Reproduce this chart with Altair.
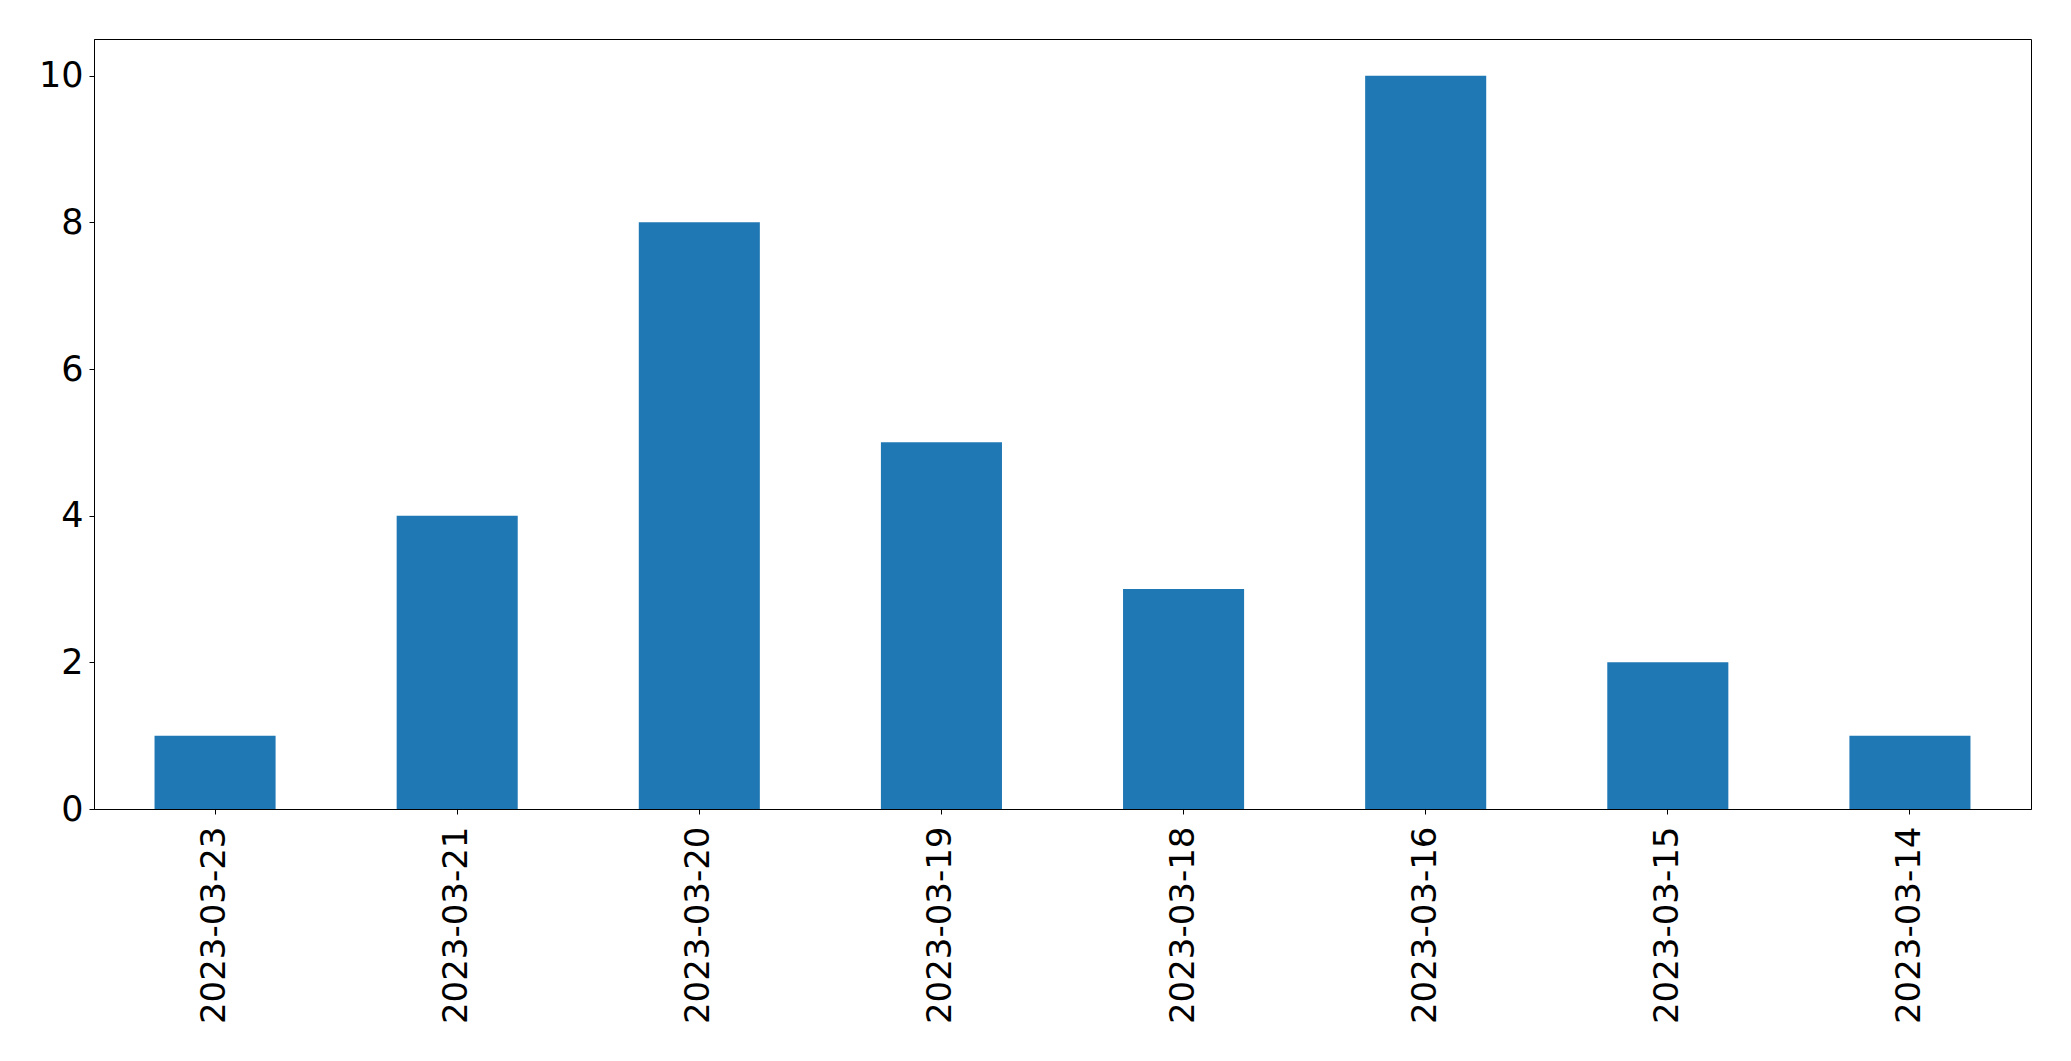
import altair as alt
import pandas as pd

dates = ["2023-03-23", "2023-03-21", "2023-03-20", "2023-03-19",
         "2023-03-18", "2023-03-16", "2023-03-15", "2023-03-14"]
counts = [1, 4, 8, 5, 3, 10, 2, 1]
y_ticks = [0, 2, 4, 6, 8, 10]

df = pd.DataFrame({"date": dates, "count": counts})

FONT = "DejaVu Sans"

chart = alt.Chart(df).mark_bar(color="#1f77b4").encode(
    x=alt.X("date:N", sort=None, title=None,
            scale=alt.Scale(paddingInner=0.5, paddingOuter=0.25),
            axis=alt.Axis(labelAngle=-90, labelFontSize=34, labelFont=FONT,
                          labelColor="black", tickColor="black", tickSize=5,
                          tickWidth=1, labelPadding=12, domainColor="black",
                          domainWidth=1, grid=False, labelLimit=0)),
    y=alt.Y("count:Q", title=None,
            scale=alt.Scale(domain=[0, 10.5], nice=False),
            axis=alt.Axis(values=y_ticks, labelFontSize=35, labelFont=FONT,
                          labelColor="black", tickColor="black", tickSize=5,
                          tickWidth=1, labelPadding=6, domainColor="black",
                          domainWidth=1, grid=False)),
).properties(
    width=1937,
    height=770,
    autosize=alt.AutoSizeParams(type="none"),
    padding={"left": 86, "top": 31, "right": 20, "bottom": 230},
).configure(
    background="white"
).configure_view(
    stroke="black", strokeWidth=1
)

chart.save("out.html", embed_options={"renderer": "svg", "actions": False})
